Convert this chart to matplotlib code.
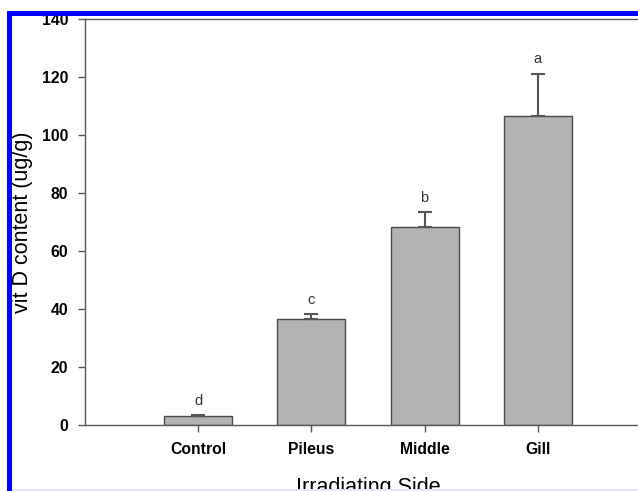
import numpy as np
import matplotlib
matplotlib.use("Agg")
from matplotlib import pyplot as plt
from matplotlib.patches import Rectangle

# data
sides = ['Control', 'Pileus', 'Middle', 'Gill']
vitd_mean = [3.0, 36.6, 68.4, 106.5]
vitd_err = [0.3, 1.7, 5.0, 14.7]
groups = ['d', 'c', 'b', 'a']
yticks = [0, 20, 40, 60, 80, 100, 120, 140]

plt.rcParams['font.family'] = ['Liberation Sans', 'DejaVu Sans']

fig = plt.figure(figsize=(6.38, 4.91), dpi=100)
ax = fig.add_axes([85 / 638, 66 / 491, 566 / 638, 406 / 491])

x = np.arange(len(sides))
ax.bar(x, vitd_mean, width=0.6, color='#b3b3b3', edgecolor='#4a4a4a', linewidth=1.0, zorder=2)
ax.errorbar(x, vitd_mean, yerr=[np.zeros(len(x)), vitd_err], fmt='none',
            ecolor='#555555', elinewidth=1.5, capsize=4.7, capthick=1.5, zorder=3)

for xi, m, e, g in zip(x, vitd_mean, vitd_err, groups):
    ax.text(xi, m + e + 2.5, g, ha='center', va='bottom', fontsize=10.5, color='#333333')

ax.set_xlim(-1, 4)
ax.set_ylim(0, 140)
ax.set_yticks(yticks)
ax.set_xticks(x)
ax.set_xticklabels(sides, fontweight='bold', fontsize=11.3)
ax.set_yticklabels([str(v) for v in yticks], fontweight='bold', fontsize=11.3)
ax.tick_params(axis='y', direction='out', length=5, width=1, color='#555555', pad=7)
ax.tick_params(axis='x', direction='out', length=5, width=1, color='#555555', pad=7)

for s in ax.spines.values():
    s.set_color('#5a5a5a')
    s.set_linewidth(1.0)

ax.set_ylabel('vit D content (ug/g)', fontsize=15.5)
ax.yaxis.set_label_coords(-0.092, 0.5)
ax.set_xlabel('Irradiating Side', fontsize=15.5)
ax.xaxis.set_label_coords(0.5, -0.128)

# blue frame of the cropped figure
W, H = 638, 491
fig.add_artist(Rectangle((7 / W, 0), 5 / W, (H - 11) / H, transform=fig.transFigure,
                         facecolor='#0000ff', edgecolor='none', zorder=10))
fig.add_artist(Rectangle((7 / W, (H - 16) / H), 1 - 7 / W, 5 / H, transform=fig.transFigure,
                         facecolor='#0000ff', edgecolor='none', zorder=10))
fig.add_artist(Rectangle((12 / W, 0), 1, 2 / H, transform=fig.transFigure,
                         facecolor='#e4e4ff', edgecolor='none', zorder=10))

plt.savefig('out.png', dpi=100)
